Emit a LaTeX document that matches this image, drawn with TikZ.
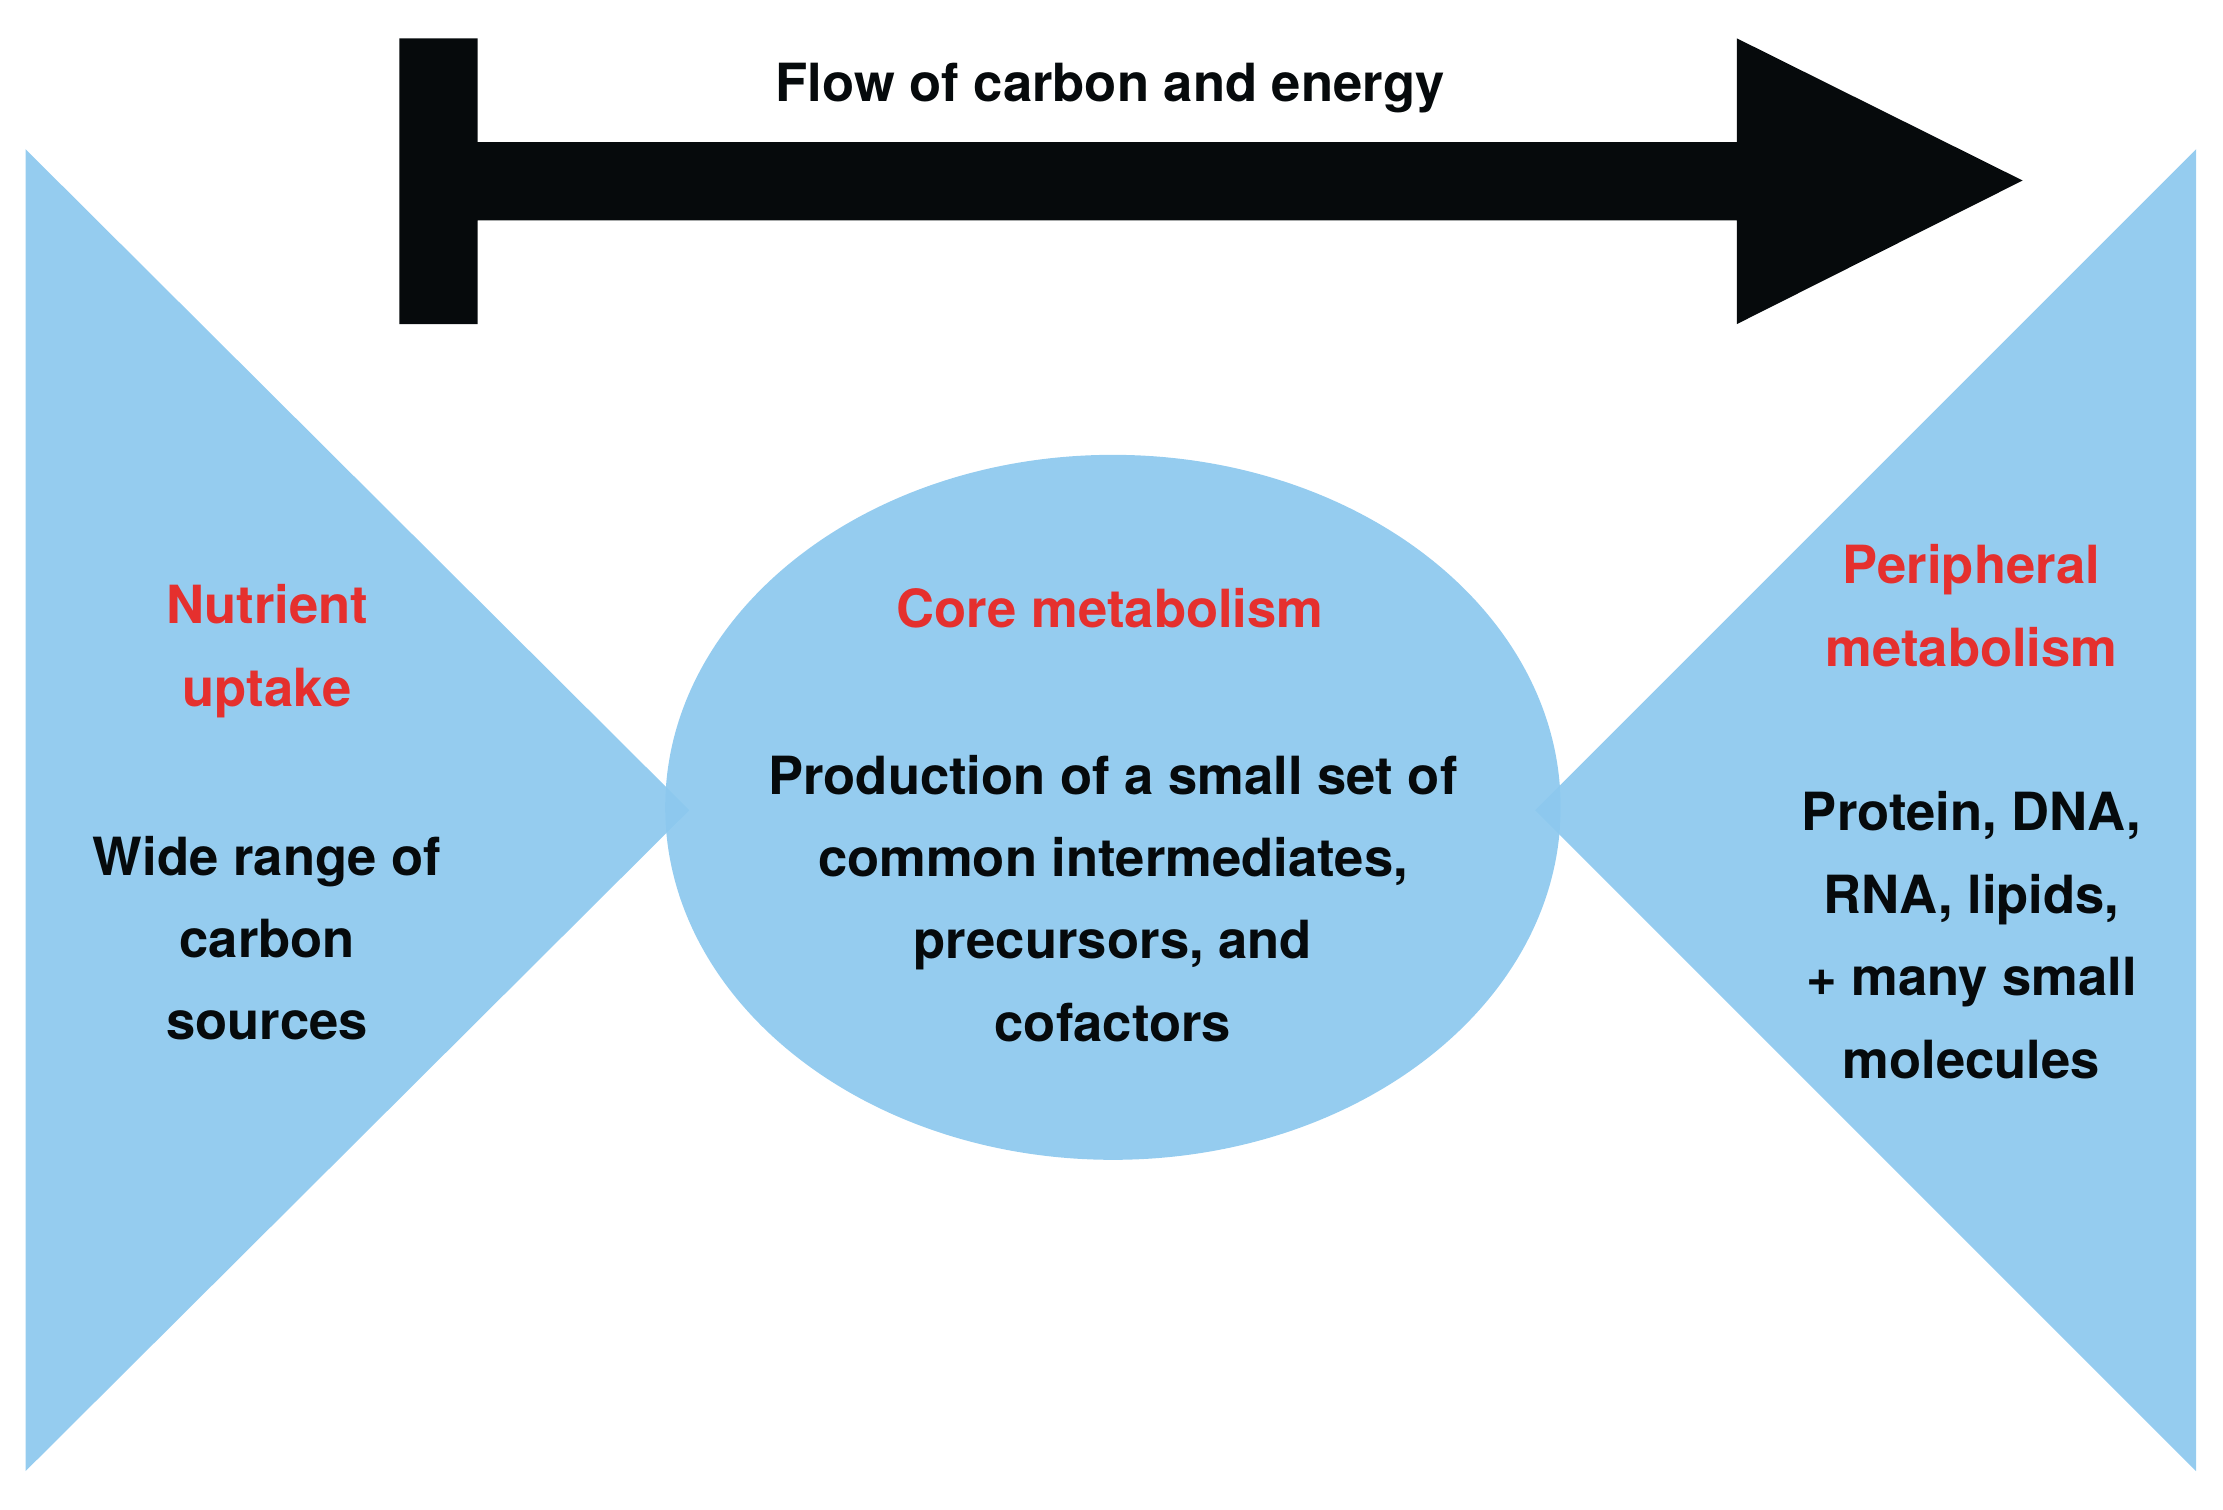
\documentclass[tikz,border=0pt]{standalone}
\usepackage{fontspec}
\setmainfont{TeX Gyre Heros}
\definecolor{sky}{HTML}{8CC8EE}
\definecolor{ink}{HTML}{060A0C}
\definecolor{rd}{HTML}{E5302E}
\begin{document}
\begin{tikzpicture}[x=1pt,y=-1pt,
  shape fill/.style={fill=sky,fill opacity=0.92,draw=none},
  txt/.style={align=center,font=\fontsize{37}{58}\selectfont\bfseries,text=ink,inner sep=0},
  red/.style={txt,text=rd}]
\useasboundingbox (0,0) rectangle (1564,1062);
\fill[shape fill] (18,105) -- (18,1035) -- (485,570) -- cycle;
\fill[shape fill] (1545,105) -- (1545,1035) -- (1080,570) -- cycle;
\fill[shape fill] (783,568) ellipse [x radius=315, y radius=248];
\fill[ink] (281,27) -- (336,27) -- (336,100) -- (1222,100) -- (1222,27) -- (1423,127)
  -- (1222,228) -- (1222,155) -- (336,155) -- (336,228) -- (281,228) -- cycle;
\node[txt] (flow) at (781,62) {Flow of carbon and energy};
\node[red] (nt) at (188,458) {Nutrient\\uptake};
\node[txt] (nb) at (188,660) {Wide range of\\carbon\\sources};
\node[red] (ct) at (781,428) {Core metabolism};
\node[txt] (cb) at (783,632) {Production of a small set of\\common intermediates,\\precursors, and\\cofactors};
\node[red] (pt) at (1387,426) {Peripheral\\metabolism};
\node[txt] (pb) at (1387,658) {Protein, DNA,\\RNA, lipids,\\+ many small\\molecules};
\end{tikzpicture}
\end{document}
